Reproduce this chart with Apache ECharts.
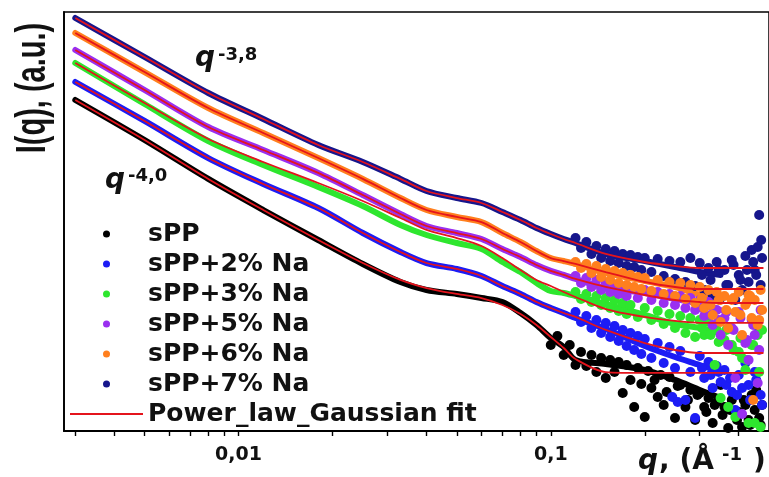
<!DOCTYPE html>
<html><head><meta charset="utf-8">
<script src="https://cdn.jsdelivr.net/npm/echarts@6/dist/echarts.min.js"></script>
<style>html,body{margin:0;padding:0;background:#fff}#c{width:769px;height:477px}</style>
</head><body><div id="c"></div>
<script>
// ---------- categories / names ----------
const seriesNames = ['sPP', 'sPP+2% Na', 'sPP+3% Na', 'sPP+5% Na', 'sPP+6% Na', 'sPP+7% Na'];
const fitName = 'Power_law_Gaussian fit';
// ---------- axis ticks ----------
const xTickLabels = [0.01, 0.1];
const xMinorTicks = [0.003,0.004,0.005,0.006,0.007,0.008,0.009,0.01,0.02,0.03,0.04,0.05,0.06,0.07,0.08,0.09,0.1,0.2,0.3,0.4];
// ---------- q grids ----------
const qBand = [0.003,0.005,0.008,0.012,0.018,0.025,0.033,0.04,0.05,0.06,0.07,0.08,0.09,0.1,0.11,0.12,0.15,0.2,0.25,0.3,0.35];
const qFit  = [0.003,0.005,0.008,0.012,0.018,0.025,0.033,0.04,0.05,0.06,0.07,0.08,0.09,0.1,0.11,0.12,0.15,0.2,0.25,0.3,0.35,0.4,0.45,0.48];
// ---------- measured I(q), dense low-q part ----------
const bandSPP   = [4.17e6,6.61e5,1.10e5,2.63e4,6.61e3,2.19e3,9.55e2,6.61e2,5.50e2,4.57e2,3.80e2,2.29e2,1.32e2,7.24e1,4.79e1,2.63e1,2.19e1,1.66e1,1.05e1,6.61,4.57];
const bandNa2   = [9.55e6,1.59e6,2.88e5,8.71e4,2.88e4,9.12e3,3.80e3,2.29e3,1.74e3,1.26e3,7.94e2,5.50e2,3.80e2,2.88e2,2.29e2,1.82e2,1.10e2,5.01e1,3.02e1,2.09e1,1.51e1];
const bandNa3   = [2.29e7,3.47e6,6.31e5,2.09e5,7.59e4,3.16e4,1.32e4,8.32e3,5.75e3,4.37e3,2.40e3,1.51e3,9.12e2,6.31e2,5.75e2,5.01e2,3.47e2,2.09e2,1.38e2,1.15e2,9.12e1];
const bandNa5   = [4.17e7,6.61e6,1.20e6,4.17e5,1.45e5,5.25e4,2.19e4,1.26e4,9.12e3,6.92e3,4.37e3,3.02e3,2.09e3,1.59e3,1.32e3,1.10e3,7.24e2,5.75e2,4.37e2,3.47e2,2.63e2];
const bandNa6   = [9.12e7,1.51e7,2.88e6,9.12e5,2.88e5,1.10e5,4.57e4,2.63e4,1.91e4,1.51e4,9.12e3,6.03e3,3.98e3,2.88e3,2.51e3,2.19e3,1.45e3,1.00e3,7.59e2,5.25e2,3.80e2];
const bandNa7   = [1.82e8,3.02e7,5.75e6,1.74e6,5.25e5,2.40e5,1.10e5,6.31e4,4.57e4,3.63e4,2.40e4,1.66e4,1.15e4,8.71e3,6.92e3,5.75e3,3.47e3,2.51e3,1.91e3,1.51e3,1.32e3];
// ---------- measured I(q), scattered high-q points ----------
const qPtsSPP = [0.125,0.13,0.135,0.14,0.145,0.15,0.155,0.16,0.165,0.17,0.175,0.18,0.185,0.19,0.195,0.2,0.205,0.21,0.22,0.225,0.23,0.24,0.25,0.26,0.27,0.28,0.29,0.3,0.31,0.32,0.33,0.34,0.35,0.36,0.37,0.38,0.4,0.41,0.42,0.43,0.44,0.455,0.47,
  0.1,0.105,0.11,0.115,0.12,0.215,0.235,0.255,0.275,0.295,0.315,0.335,0.355,0.375,0.395,0.415,0.435,0.45,0.465,0.475];
const iPtsSPP = [3.80e1,2.00e1,3.31e1,1.51e1,2.88e1,1.15e1,2.63e1,1.51e1,2.40e1,5.75,2.09e1,1.05e1,3.02,1.82e1,8.71,1.91,1.59e1,7.24,4.79,1.32e1,3.31,1.20e1,1.82,8.32,3.02,6.61,1.66,5.75,3.02,4.57,1.45,3.80,8.32,3.02,1.15,4.17,2.40,1.20,3.31,1.66,5.25,6.61,1.32,
  5.25e1,7.94e1,3.31e1,5.25e1,2.09e1,1.05e1,6.03,7.94,4.17,5.25,2.40,3.31,2.09,2.63,1.66,4.17,1.32,2.63,1.82,3.31];
const qPtsNa2 = [0.12,0.125,0.13,0.135,0.14,0.145,0.15,0.155,0.16,0.165,0.17,0.175,0.18,0.185,0.19,0.195,0.2,0.21,0.22,0.23,0.24,0.245,0.25,0.255,0.26,0.27,0.28,0.29,0.3,0.31,0.32,0.33,0.34,0.35,0.36,0.38,0.39,0.4,0.42,0.43,0.45,0.465,0.47,
  0.305,0.325,0.345,0.365,0.375,0.395,0.41,0.435,0.455,0.475];
const iPtsNa2 = [2.40e2,1.51e2,2.00e2,1.15e2,1.66e2,9.12e1,1.45e2,7.59e1,1.26e2,6.31e1,1.05e2,5.01e1,9.12e1,4.17e1,7.94e1,3.47e1,6.92e1,2.88e1,5.75e1,2.29e1,4.79e1,4.79,1.82e1,3.80,3.98e1,4.17,1.51e1,1.82,3.16e1,1.15e1,2.40e1,7.24,2.00e1,9.55,1.66e1,6.03,2.63,1.32e1,2.29e1,8.32,1.51e1,1.05e2,5.25,
  1.82e1,1.32e1,1.51e1,8.32,1.15e1,5.25,7.24,4.17,1.05e1,3.31];
const qPtsNa3 = [0.12,0.125,0.13,0.135,0.14,0.145,0.15,0.155,0.16,0.165,0.17,0.175,0.18,0.19,0.2,0.21,0.22,0.23,0.24,0.25,0.26,0.27,0.28,0.29,0.3,0.31,0.32,0.335,0.34,0.35,0.36,0.37,0.38,0.39,0.4,0.41,0.42,0.43,0.44,0.45,0.46,0.47,0.475,
  0.305,0.325,0.345,0.365,0.385,0.405,0.425,0.445,0.465];
const iPtsNa3 = [6.03e2,4.37e2,5.50e2,3.80e2,5.01e2,3.31e2,4.57e2,2.88e2,4.17e2,2.51e2,3.63e2,2.19e2,3.31e2,1.91e2,2.88e2,1.66e2,2.51e2,1.38e2,2.19e2,1.15e2,2.00e2,9.12e1,1.82e2,7.59e1,1.66e2,8.32e1,1.51e2,2.09e1,1.05e2,4.57,6.61e1,3.02,5.25e1,1.91,3.80e1,2.88e1,1.66e1,1.45,5.25e1,1.45,8.32e1,1.20,1.05e2,
  1.15e2,8.32e1,6.03e1,1.05e2,4.17e1,7.24e1,2.63e1,5.25e1,1.51e1];
const qPtsNa5 = [0.12,0.125,0.13,0.135,0.14,0.145,0.15,0.155,0.16,0.165,0.17,0.175,0.18,0.19,0.2,0.21,0.22,0.23,0.24,0.25,0.26,0.27,0.28,0.29,0.3,0.31,0.32,0.33,0.34,0.35,0.36,0.37,0.38,0.39,0.4,0.41,0.42,0.43,0.44,0.45,0.46,0.47,
  0.305,0.325,0.345,0.365,0.385,0.405,0.425,0.445,0.465];
const iPtsNa5 = [1.26e3,9.12e2,1.15e3,7.59e2,1.05e3,6.61e2,9.12e2,6.03e2,8.32e2,5.50e2,7.59e2,5.01e2,7.24e2,4.57e2,6.61e2,4.17e2,6.03e2,3.63e2,5.50e2,3.31e2,5.01e2,2.88e2,4.57e2,2.63e2,4.17e2,2.00e2,3.80e2,1.32e2,2.63e2,8.32e1,1.82e2,5.25e1,1.15e2,1.15e1,2.40e2,2.19,5.75e1,2.63e1,1.66e2,8.32e1,9.12,2.63e2,
  2.88e2,2.09e2,1.66e2,2.40e2,1.05e2,1.82e2,6.61e1,1.32e2,4.17e1];
const qPtsNa6 = [0.12,0.125,0.13,0.135,0.14,0.145,0.15,0.155,0.16,0.165,0.17,0.175,0.18,0.185,0.19,0.195,0.2,0.21,0.22,0.23,0.24,0.25,0.26,0.27,0.28,0.29,0.3,0.31,0.32,0.33,0.34,0.35,0.36,0.37,0.38,0.39,0.4,0.41,0.42,0.43,0.44,0.445,0.45,0.46,0.47,0.475,
  0.305,0.325,0.345,0.365,0.385,0.405,0.425,0.435,0.465];
const iPtsNa6 = [2.40e3,1.82e3,2.19e3,1.45e3,2.00e3,1.20e3,1.74e3,1.05e3,1.59e3,9.12e2,1.45e3,8.32e2,1.32e3,7.59e2,1.20e3,6.92e2,1.15e3,6.31e2,1.05e3,5.50e2,9.55e2,5.01e2,9.12e2,4.37e2,8.32e2,3.63e2,7.59e2,2.88e2,6.61e2,2.09e2,6.03e2,1.51e2,5.01e2,1.15e2,4.17e2,2.40e2,6.03e2,8.32e1,3.31e2,5.25e2,1.82e2,4.17,4.17e2,1.32e2,6.61e2,2.63e2,
  4.57e2,3.31e2,4.17e2,2.63e2,4.57e2,2.09e2,3.80e2,5.01e2,1.66e2];
const qPtsNa7 = [0.12,0.125,0.13,0.135,0.14,0.145,0.15,0.155,0.16,0.165,0.17,0.175,0.18,0.185,0.19,0.195,0.2,0.21,0.22,0.23,0.24,0.25,0.26,0.27,0.28,0.29,0.3,0.31,0.32,0.33,0.34,0.35,0.36,0.37,0.38,0.39,0.4,0.41,0.42,0.43,0.44,0.45,0.46,0.465,0.47,0.475,
  0.305,0.325,0.345,0.365,0.385,0.405,0.425,0.445,0.455,0.472];
const iPtsNa7 = [7.24e3,4.57e3,6.03e3,3.47e3,5.01e3,2.88e3,4.37e3,2.51e3,3.98e3,2.29e3,3.47e3,2.00e3,3.31e3,1.91e3,3.02e3,1.66e3,2.88e3,1.51e3,2.75e3,1.26e3,2.51e3,1.10e3,2.40e3,9.55e2,2.88e3,7.94e2,2.29e3,6.61e2,1.82e3,5.25e2,2.40e3,4.57e2,1.66e3,8.32e2,2.63e3,4.17e2,1.32e3,6.61e2,3.16e3,9.55e2,4.17e3,1.66e3,4.79e3,2.09e4,8.32e2,2.88e3,
  1.32e3,1.05e3,1.66e3,8.32e2,2.09e3,1.05e3,1.66e3,2.40e3,1.32e3,6.61e3];
// ---------- Power law + Gaussian fits ----------
const fitSPP = [4.17e6,6.61e5,1.10e5,2.63e4,6.61e3,2.29e3,1.05e3,7.24e2,5.50e2,4.57e2,3.31e2,2.19e2,1.32e2,7.59e1,4.57e1,2.75e1,1.51e1,1.45e1,1.45e1,1.45e1,1.45e1,1.45e1,1.45e1,1.45e1];
const fitNa2 = [9.55e6,1.59e6,2.88e5,8.71e4,2.88e4,9.12e3,3.80e3,2.29e3,1.74e3,1.26e3,7.94e2,5.50e2,3.80e2,2.88e2,2.29e2,1.91e2,1.05e2,5.75e1,4.17e1,3.63e1,3.63e1,3.63e1,3.63e1,3.63e1];
const fitNa3 = [2.29e7,3.63e6,6.92e5,2.40e5,9.12e4,3.98e4,1.82e4,1.05e4,7.24e3,5.01e3,2.88e3,1.66e3,1.05e3,7.94e2,6.03e2,4.79e2,2.75e2,1.91e2,1.59e2,1.45e2,1.45e2,1.45e2,1.45e2,1.45e2];
const fitNa5 = [4.17e7,6.61e6,1.20e6,4.17e5,1.45e5,5.25e4,2.19e4,1.26e4,9.12e3,6.92e3,4.37e3,3.02e3,2.09e3,1.59e3,1.32e3,1.10e3,7.59e2,5.25e2,4.17e2,3.80e2,3.63e2,3.63e2,3.63e2,3.63e2];
const fitNa6 = [9.12e7,1.51e7,2.88e6,9.12e5,2.88e5,1.10e5,4.57e4,2.63e4,1.91e4,1.51e4,9.12e3,6.03e3,3.98e3,2.88e3,2.51e3,2.19e3,1.51e3,9.55e2,7.59e2,6.92e2,6.92e2,6.92e2,6.92e2,6.92e2];
const fitNa7 = [1.82e8,3.02e7,5.75e6,1.74e6,5.25e5,2.40e5,1.10e5,6.31e4,4.57e4,3.63e4,2.40e4,1.66e4,1.15e4,8.71e3,6.92e3,5.75e3,3.47e3,2.40e3,2.00e3,1.82e3,1.82e3,1.82e3,1.82e3,1.82e3];

// ---------- build ----------
const colors = ['#000000', '#1c1cf5', '#2ee62e', '#9a2ff0', '#ff7f1e', '#16168c'];
const fitColor = '#e4141c';
const bands = [bandSPP, bandNa2, bandNa3, bandNa5, bandNa6, bandNa7];
const ptsQ = [qPtsSPP, qPtsNa2, qPtsNa3, qPtsNa5, qPtsNa6, qPtsNa7];
const ptsI = [iPtsSPP, iPtsNa2, iPtsNa3, iPtsNa5, iPtsNa6, iPtsNa7];
const fits = [fitSPP, fitNa2, fitNa3, fitNa5, fitNa6, fitNa7];
const pairs = (q, v) => q.map((x, i) => [x, v[i]]);

const series = [];
// scatter first (legend icon source), drawing order: 7%, sPP, 2%, 3%, 5%, 6%
[5, 0, 1, 2, 3, 4].forEach(k => {
  series.push({ type: 'scatter', name: seriesNames[k], data: pairs(ptsQ[k], ptsI[k]),
    symbol: 'circle', symbolSize: 10, itemStyle: { color: colors[k], opacity: 1 }, z: 2 });
});
[0, 1, 2, 3, 4, 5].forEach(k => {
  series.push({ type: 'line', name: seriesNames[k], data: pairs(qBand, bands[k]),
    symbol: 'none', smooth: 0.3, color: colors[k],
    lineStyle: { width: 6, color: colors[k], cap: 'round', join: 'round' }, z: 1 });
});
fits.forEach(f => {
  series.push({ type: 'line', name: fitName, data: pairs(qFit, f), symbol: 'none',
    smooth: 0.3, color: fitColor, lineStyle: { width: 1.8, color: fitColor }, z: 3 });
});

const fmt = v => String(+(+v).toPrecision(3)).replace('.', ',');
const chart = echarts.init(document.getElementById('c'), null, { renderer: 'canvas' });
chart.setOption({
  animation: false,
  backgroundColor: '#ffffff',
  grid: { left: 64, top: 12, width: 711, height: 419, show: true, borderColor: '#000', borderWidth: 1.5, backgroundColor: 'transparent' },
  xAxis: {
    type: 'log', logBase: 10, min: 0.00276, max: 0.5,
    axisLine: { show: true, lineStyle: { color: '#000', width: 1.8 } },
    axisTick: { show: true, customValues: xMinorTicks, length: 5, lineStyle: { color: '#000', width: 1.4 } },
    axisLabel: { show: true, customValues: xTickLabels, formatter: fmt, margin: 15,
      fontFamily: 'DejaVu Sans', fontWeight: 'bold', fontSize: 19, color: '#111' },
    splitLine: { show: false }, minorTick: { show: false }
  },
  yAxis: {
    type: 'log', logBase: 10, min: 1, max: 2.399e8,
    axisLine: { show: true, lineStyle: { color: '#000', width: 1.8 } },
    axisTick: { show: false }, axisLabel: { show: false }, splitLine: { show: false }
  },
  legend: {
    orient: 'vertical', left: 70, top: 219, padding: 0, itemGap: 0,
    itemWidth: 73, itemHeight: 7, selectedMode: false,
    textStyle: { fontFamily: 'DejaVu Sans', fontWeight: 'bold', fontSize: 25, color: '#111', lineHeight: 30 },
    data: seriesNames.map(n => ({ name: n, icon: 'circle' }))
      .concat([{ name: fitName, icon: 'path://M0,0H73V2H0Z' }])
  },
  graphic: [
    { type: 'text', x: 33, y: 88, rotation: Math.PI / 2, scaleY: 1.45,
      style: { text: 'I(q), (a.u.)', font: 'bold 29px "Liberation Sans"', fill: '#111', align: 'center', verticalAlign: 'middle' } },
    { type: 'text', x: 195, y: 59, style: { text: 'q', font: 'italic bold 28px "DejaVu Sans"', fill: '#111', verticalAlign: 'middle' } },
    { type: 'text', x: 218, y: 55, style: { text: '-3,8', font: 'bold 18px "DejaVu Sans"', fill: '#111', verticalAlign: 'middle' } },
    { type: 'text', x: 105, y: 181, style: { text: 'q', font: 'italic bold 28px "DejaVu Sans"', fill: '#111', verticalAlign: 'middle' } },
    { type: 'text', x: 128, y: 176, style: { text: '-4,0', font: 'bold 18px "DejaVu Sans"', fill: '#111', verticalAlign: 'middle' } },
    { type: 'text', x: 638, y: 462, style: { text: 'q', font: 'italic bold 28px "DejaVu Sans"', fill: '#111', verticalAlign: 'middle' } },
    { type: 'text', x: 659, y: 462, style: { text: ', (Å', font: 'bold 28px "DejaVu Sans"', fill: '#111', verticalAlign: 'middle' } },
    { type: 'text', x: 722, y: 455, style: { text: '-1', font: 'bold 18px "DejaVu Sans"', fill: '#111', verticalAlign: 'middle' } },
    { type: 'text', x: 753, y: 462, style: { text: ')', font: 'bold 28px "DejaVu Sans"', fill: '#111', verticalAlign: 'middle' } }
  ],
  series: series
});
</script></body></html>
